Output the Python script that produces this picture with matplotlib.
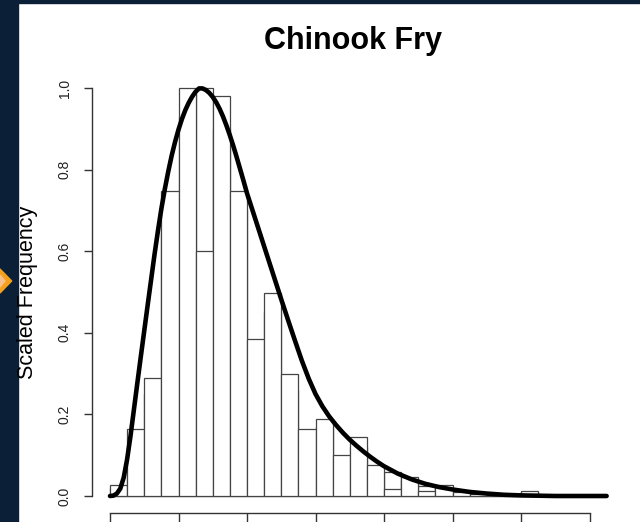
import numpy as np
import matplotlib
matplotlib.use('Agg')
import matplotlib.pyplot as plt
from matplotlib.patches import Rectangle, Polygon

plt.rcParams['font.family'] = ['Liberation Sans', 'DejaVu Sans']

# histogram bins (width 0.25) and the two scaled histograms
bin_width = 0.25
bin_left = np.arange(0, 7, bin_width)
hist_a = [0.02, 0.12, 0.25, 0.70, 0.93, 1.00, 0.90, 0.70, 0.33, 0.45,
          0.26, 0.14, 0.17, 0.08, 0.12, 0.06, 0.060, 0.04, 0.025, 0.02,
          0.008, 0.004, 0.0, 0.0, 0.010, 0.0, 0.0, 0.0]
hist_b = [0.027, 0.165, 0.29, 0.748, 1.00, 0.60, 0.98, 0.748, 0.386, 0.497,
          0.30, 0.164, 0.188, 0.10, 0.144, 0.075, 0.016, 0.046, 0.013, 0.027,
          0.010, 0.005, 0.003, 0.0, 0.012, 0.0, 0.0, 0.0]

# fitted curve
curve_x = [0.00, 0.05, 0.10, 0.15, 0.20, 0.25, 0.30, 0.35, 0.40, 0.45,
           0.50, 0.55, 0.60, 0.65, 0.70, 0.75, 0.80, 0.85, 0.90, 0.95,
           1.00, 1.05, 1.10, 1.15, 1.20, 1.25, 1.30, 1.35, 1.40, 1.45,
           1.50, 1.55, 1.60, 1.65, 1.70, 1.75, 1.80, 1.85, 1.90, 1.95,
           2.00, 2.10, 2.20, 2.30, 2.40, 2.50, 2.60, 2.70, 2.80, 2.90,
           3.00, 3.10, 3.20, 3.30, 3.40, 3.50, 3.60, 3.70, 3.80, 3.90,
           4.00, 4.20, 4.40, 4.60, 4.80, 5.00, 5.25, 5.50, 5.75, 6.00,
           6.50, 7.25]
curve_y = [0.000, 0.001, 0.006, 0.018, 0.045, 0.090, 0.148, 0.213, 0.278, 0.342,
           0.405, 0.468, 0.530, 0.592, 0.650, 0.704, 0.752, 0.795, 0.834, 0.868,
           0.898, 0.924, 0.946, 0.964, 0.979, 0.991, 0.999, 0.999, 0.995, 0.988,
           0.978, 0.965, 0.949, 0.930, 0.908, 0.884, 0.858, 0.830, 0.801, 0.772,
           0.742, 0.690, 0.638, 0.586, 0.534, 0.482, 0.431, 0.381, 0.332, 0.288,
           0.250, 0.220, 0.195, 0.174, 0.155, 0.138, 0.123, 0.109, 0.096, 0.084,
           0.073, 0.055, 0.041, 0.030, 0.022, 0.016, 0.010, 0.006, 0.003, 0.0015,
           0.0, 0.0]

yticks = [0.0, 0.2, 0.4, 0.6, 0.8, 1.0]
xticks = [0, 1, 2, 3, 4, 5, 6, 7]

W, H = 640, 522
fig = plt.figure(figsize=(W / 100, H / 100), dpi=100)
fig.patch.set_facecolor('white')

# slide decoration: navy strips and orange marker
navy = '#0b1f37'
fig.patches.append(Rectangle((0, 0), 17.5 / W, 1, transform=fig.transFigure, color=navy, zorder=0))
fig.patches.append(Rectangle((0, 1 - 2.5 / H), 1, 2.5 / H, transform=fig.transFigure, color=navy, zorder=0))
def px(pts):
    return [(x / W, 1 - y / H) for x, y in pts]
fig.patches.append(Polygon(px([(-12, 281), (0, 269), (11.7, 281), (0, 293)]),
                           transform=fig.transFigure, color='#f5a01a', zorder=1))
fig.patches.append(Polygon(px([(-6, 281), (0, 275), (5, 281), (0, 287)]),
                           transform=fig.transFigure, color='#f8c08c', zorder=2))

ax = fig.add_axes([92 / W, 1 - 512.7 / H, (630 - 92) / W, (512.7 - 60) / H])
ax.set_facecolor('none')
ax.set_xlim((92 - 110) / 68.5, (630 - 110) / 68.5)
ax.set_ylim((496 - 512.7) / 408, (496 - 60) / 408)

ax.bar(bin_left, hist_a, width=bin_width, align='edge', facecolor='white',
       edgecolor='#444444', linewidth=0.9, zorder=2)
ax.bar(bin_left, hist_b, width=bin_width, align='edge', facecolor='white',
       edgecolor='#444444', linewidth=0.9, zorder=3)
ax.plot(curve_x, curve_y, color='black', linewidth=3.3, zorder=4,
        solid_capstyle='round', solid_joinstyle='round')

for s in ['top', 'right']:
    ax.spines[s].set_visible(False)
ax.spines['left'].set_bounds(0, 1)
ax.spines['bottom'].set_bounds(0, 7)
for s in ['left', 'bottom']:
    ax.spines[s].set_color('#333333')
    ax.spines[s].set_linewidth(1.0)

ax.set_yticks(yticks)
ax.set_yticklabels(['%.1f' % v for v in yticks], rotation=90, va='center')
ax.set_xticks(xticks)
ax.tick_params(axis='y', length=6, width=1.0, color='#333333', pad=8.6,
               labelsize=10, labelcolor='#222222')
ax.tick_params(axis='x', length=8, width=1.0, color='#333333', labelbottom=False)

fig.text(353 / W, 1 - 48.5 / H, 'Chinook Fry', fontsize=22, fontweight='bold',
         ha='center', va='baseline')
fig.text(27.5 / W, 1 - 292.5 / H, 'Scaled Frequency', fontsize=15.5,
         rotation=90, ha='center', va='center')

fig.savefig('out.png', dpi=100)
